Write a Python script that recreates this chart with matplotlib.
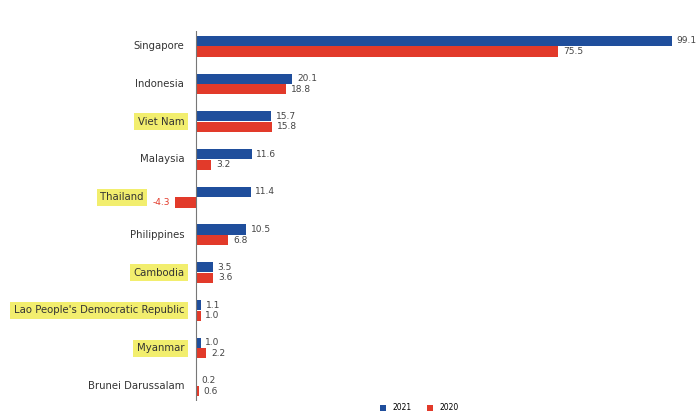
import numpy as np
import matplotlib.pyplot as plt

# data
countries = ["Singapore", "Indonesia", "Viet Nam", "Malaysia", "Thailand",
             "Philippines", "Cambodia", "Lao People's Democratic Republic",
             "Myanmar", "Brunei Darussalam"]
v2021 = [99.1, 20.1, 15.7, 11.6, 11.4, 10.5, 3.5, 1.1, 1.0, 0.2]
v2020 = [75.5, 18.8, 15.8, 3.2, -4.3, 6.8, 3.6, 1.0, 2.2, 0.6]
highlighted = ["Viet Nam", "Thailand", "Cambodia",
               "Lao People's Democratic Republic", "Myanmar"]

blue = "#1f4e9c"
red = "#e23a2a"

fig = plt.figure(figsize=(6.98, 4.15), dpi=100)
ax = fig.add_axes([0.229, 0.034, 0.76, 0.891])

y = np.arange(len(countries))
h = 0.27
ax.barh(y - 0.14, v2021, height=h, color=blue, label="2021")
ax.barh(y + 0.14, v2020, height=h, color=red, label="2020")

for i in range(len(countries)):
    ax.text(max(v2021[i], 0) + 1.0, y[i] - 0.14, f"{v2021[i]:.1f}",
            va="center", ha="left", fontsize=6.5, color="#444444")
    if v2020[i] < 0:
        ax.text(v2020[i] - 1.0, y[i] + 0.14, f"{v2020[i]:.1f}",
                va="center", ha="right", fontsize=6.5, color=red)
    else:
        ax.text(v2020[i] + 1.0, y[i] + 0.14, f"{v2020[i]:.1f}",
                va="center", ha="left", fontsize=6.5, color="#444444")

# country labels, pushed further left where a negative bar is in the way
for i, name in enumerate(countries):
    xpos = -2.4
    if min(v2020[i], v2021[i]) < 0:
        xpos = min(v2020[i], v2021[i]) - 6.5
    box = None
    if name in highlighted:
        box = dict(facecolor="#f2ee6e", edgecolor="none", pad=2.5)
    ax.text(xpos, y[i], name, ha="right", va="center", fontsize=7.3,
            color="#333333", bbox=box)

ax.set_xlim(-7.5, 103)
ax.set_ylim(len(countries) - 0.6, -0.4)
ax.axvline(0, color="#777777", lw=0.8)
ax.set_xticks([])
ax.set_yticks([])
for s in ax.spines.values():
    s.set_visible(False)

fig.legend(loc="lower left", bbox_to_anchor=(0.535, -0.01), ncol=2,
           fontsize=5.5, frameon=False, handlelength=0.8, handleheight=0.8,
           columnspacing=2.0)

plt.savefig("out.png", dpi=100)
